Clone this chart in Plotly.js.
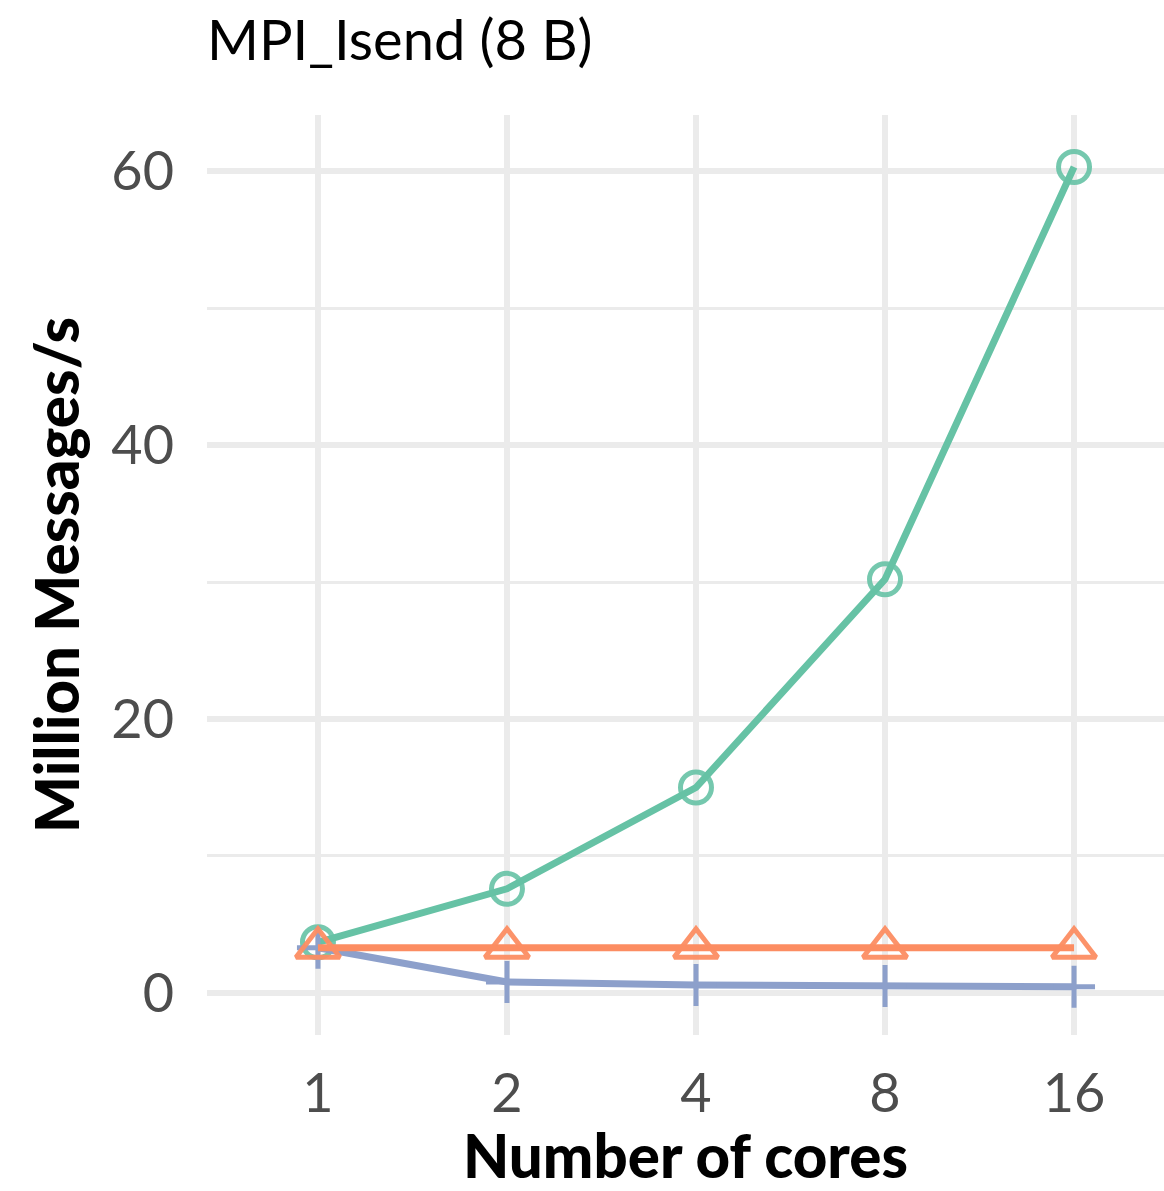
<!DOCTYPE html>
<html>
<head>
<meta charset="utf-8">
<script src="https://cdn.plot.ly/plotly-3.0.1.min.js"></script>
<style>html,body{margin:0;padding:0;background:#fff;}#chart{width:1164px;height:1191px;}</style>
</head>
<body>
<div id="chart"></div>
<script>
const cores = ["1", "2", "4", "8", "16"];
const seriesA = [3.7, 7.6, 15.0, 30.2, 60.3];   // green circles
const seriesB = [3.3, 0.8, 0.58, 0.5, 0.45];    // blue crosses
const seriesC = [3.3, 3.3, 3.3, 3.3, 3.3];      // orange triangles
const yTicks = [0, 20, 40, 60];

const traces = [
  {x: cores, y: seriesA, type: 'scatter', mode: 'lines+markers',
   line: {color: '#66c2a5', width: 7},
   marker: {symbol: 'circle-open', size: 31, color: 'rgba(102,194,165,0.9)', line: {width: 5, color: 'rgba(102,194,165,0.9)'}},
   showlegend: false},
  {x: cores, y: seriesB, type: 'scatter', mode: 'lines+markers',
   line: {color: '#8da0cb', width: 7},
   marker: {symbol: 'cross-thin-open', size: 30, color: '#8da0cb', line: {width: 5, color: '#8da0cb'}},
   showlegend: false},
  {x: cores, y: seriesC, type: 'scatter', mode: 'lines+markers',
   line: {color: '#fc8d62', width: 7},
   marker: {symbol: 'triangle-up-open', size: 38, color: 'rgba(252,141,98,0.95)', line: {width: 5, color: 'rgba(252,141,98,0.95)'}},
   showlegend: false}
];

const layout = {
  width: 1164, height: 1191,
  margin: {l: 207, r: 0, t: 115, b: 156},
  paper_bgcolor: '#fff', plot_bgcolor: '#fff',
  font: {family: 'Lato, "Open Sans", sans-serif'},
  title: {text: 'MPI_Isend (8 B)', x: 207/1164, xanchor: 'left', y: 1 - 40/1191, yanchor: 'middle',
          font: {size: 56, color: '#000'}},
  xaxis: {type: 'category', range: [-0.587, 4.476], showgrid: true, gridcolor: '#ebebeb', gridwidth: 6,
          zeroline: false, showline: false, ticks: '', tickfont: {size: 54, color: '#4d4d4d'},
          ticklabelstandoff: 22,
          title: {text: '\u2007\u2007Number of cores', font: {size: 60, color: '#000', weight: 900}, standoff: 28}},
  yaxis: {range: [-3.07, 64.1], tickvals: yTicks, showgrid: true, gridcolor: '#ebebeb', gridwidth: 6,
          minor: {dtick: 10, tick0: 10, showgrid: true, gridcolor: '#ebebeb', gridwidth: 3},
          zeroline: false, showline: false, ticks: '', tickfont: {size: 54, color: '#4d4d4d'},
          ticklabelstandoff: 32,
          title: {text: 'Million Messages/s', font: {size: 60, color: '#000', weight: 900}, standoff: 12}}
};

Plotly.newPlot('chart', traces, layout, {displayModeBar: false, staticPlot: true});
</script>
</body>
</html>
